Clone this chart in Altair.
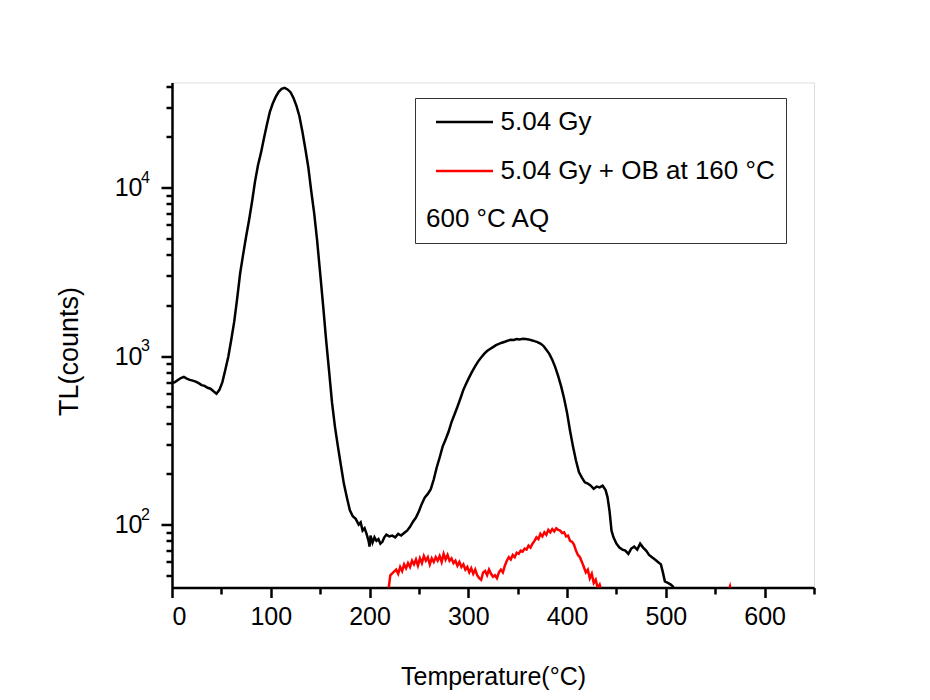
import altair as alt
import pandas as pd

FONT = "Liberation Sans"

series_names = ["5.04 Gy", "5.04 Gy + OB at 160 °C"]
series_colors = ["#000000", "#ff0000"]

black_T = [0, 3, 6, 9, 12, 15, 18, 21, 24, 27, 30, 33, 36, 39, 42, 45, 48, 51, 54, 57,
           60, 63, 66, 69, 72, 75, 78, 81, 84, 87, 90, 93, 96, 99, 102, 105, 108, 111, 114, 117,
           120, 123, 126, 129, 132, 135, 138, 141, 144, 147, 150, 153, 156, 159, 162, 165, 168, 171, 174, 177,
           180, 183, 186, 189, 191, 193, 195, 197, 199, 200, 201, 203, 205, 207, 209, 211, 213, 215, 217, 220,
           223, 226, 229, 232, 235, 238, 241, 244, 247, 250, 253, 256, 259, 262, 265, 268, 271, 274, 277, 280,
           283, 286, 289, 292, 295, 298, 301, 304, 307, 310, 313, 316, 319, 322, 325, 328, 331, 334, 337, 340,
           343, 346, 349, 352, 355, 358, 361, 364, 367, 370, 373, 376, 379, 382, 385, 388, 391, 394, 397, 400,
           403, 406, 409, 412, 415, 418, 421, 424, 427, 430, 433, 436, 439, 441, 443, 445, 447, 450, 453, 456,
           459, 462, 465, 468, 471, 474, 477, 480, 483, 486, 489, 492, 495, 497, 499, 502, 505, 507, 510, 515,
           540, 580, 620, 650]
black_v = [690, 700, 720, 740, 752, 735, 722, 715, 705, 690, 672, 665, 648, 640, 618, 598, 630, 700, 830, 990,
           1250, 1600, 2200, 3100, 4000, 5100, 6400, 8200, 10800, 13500, 16000, 19500, 23500, 28000, 31500, 34500, 37000, 38500, 39000, 38200,
           36800, 34000, 30500, 26500, 21500, 17000, 13200, 9500, 7000, 4800, 3100, 2000, 1250, 820, 530, 380, 290, 225, 175, 145,
           122, 112, 108, 100, 103, 92, 95, 88, 80, 74, 86, 78, 84, 80, 82, 77, 79, 84, 87, 85,
           86, 84, 88, 86, 89, 92, 97, 104, 110, 120, 133, 145, 152, 162, 185, 218, 250, 290, 320, 355,
           405, 450, 500, 560, 630, 690, 750, 810, 870, 930, 980, 1030, 1070, 1100, 1130, 1160, 1180, 1200, 1215, 1235,
           1250, 1245, 1260, 1255, 1265, 1260, 1255, 1240, 1225, 1210, 1185, 1150, 1090, 1030, 950, 860, 760, 660, 560, 460,
           360, 290, 240, 205, 190, 178, 175, 170, 163, 168, 166, 170, 160, 145, 120, 92, 84, 77, 73, 71,
           70, 67, 72, 74, 71, 77, 73, 70, 66, 64, 62, 60, 58, 52, 46, 45, 44, 43, 40, 36,
           33, 31, 30, 30]

red_T = [215, 219, 221, 224, 227, 229, 231, 233, 235, 237, 239, 241, 243, 245, 247, 249, 251, 253, 255, 257,
         259, 261, 263, 265, 267, 269, 271, 273, 275, 277, 279, 281, 283, 285, 287, 289, 291, 293, 295, 297,
         299, 301, 303, 305, 307, 309, 311, 313, 315, 317, 319, 321, 323, 325, 327, 329, 331, 333, 335, 337,
         339, 341, 343, 345, 347, 349, 351, 353, 355, 357, 359, 361, 363, 365, 367, 369, 371, 373, 375, 377,
         379, 381, 383, 385, 387, 389, 391, 393, 395, 397, 399, 401, 403, 405, 407, 409, 411, 413, 415, 417,
         419, 421, 423, 425, 427, 429, 431, 433, 435, 437, 440, 460, 480, 500, 520, 540, 560, 565, 568, 590,
         620, 650]
red_v = [35, 40, 50, 52, 54, 51, 56, 53, 58, 55, 59, 56, 61, 58, 62, 57, 63, 59, 65, 61,
         64, 58, 63, 60, 64, 61, 65, 60, 67, 62, 66, 61, 63, 59, 61, 57, 60, 56, 58, 54,
         56, 52, 55, 51, 54, 50, 48, 47, 52, 53, 50, 54, 51, 49, 50, 48, 52, 54, 52, 57,
         61, 64, 62, 66, 64, 68, 67, 70, 69, 72, 71, 75, 73, 77, 80, 84, 82, 88, 85, 90,
         87, 93, 90, 94, 91, 95, 93, 92, 89, 90, 85, 86, 80, 79, 76, 70, 66, 64, 60, 56,
         52, 54, 48, 51, 45, 47, 42, 44, 40, 38, 36, 33, 35, 32, 34, 33, 35, 43, 36, 33,
         34, 32]

x_major = [0, 100, 200, 300, 400, 500, 600]
x_minor = [50, 150, 250, 350, 450, 550, 650]
y_major = [100, 1000, 10000]
y_minor = [50, 60, 70, 80, 90, 200, 300, 400, 500, 600, 700, 800, 900,
           2000, 3000, 4000, 5000, 6000, 7000, 8000, 9000, 20000, 30000, 40000]
y_exponents = ["2", "3", "4"]

x_domain = [0, 650]
y_domain = [42.3, 42000]

df = pd.concat([
    pd.DataFrame({"T": black_T, "v": black_v, "series": series_names[0]}),
    pd.DataFrame({"T": red_T, "v": red_v, "series": series_names[1]}),
], ignore_index=True)
sup_df = pd.DataFrame({"v": y_major, "e": y_exponents})

xs = alt.Scale(domain=x_domain, nice=False, zero=False)
ys = alt.Scale(type="log", domain=y_domain, nice=False)

major_x = alt.Axis(values=x_major, orient="bottom", tickSize=10, tickWidth=2.5, tickColor="black",
                   domainColor="black", domainWidth=2.5, labelFontSize=25, labelPadding=7,
                   labelColor="black", labelFont=FONT, grid=False,
                   title="Temperature(°C)", titleFontSize=25, titleFontWeight="normal",
                   titleFont=FONT, titleColor="black", titleBaseline="alphabetic", titleY=97)
minor_x = alt.Axis(values=x_minor, orient="bottom", tickSize=6.5, tickWidth=2.5, tickColor="black",
                   domain=False, labels=False, title=None, grid=False)
major_y = alt.Axis(values=y_major, orient="left", tickSize=11, tickWidth=2.5, tickColor="black",
                   domainColor="black", domainWidth=2.5, labelFontSize=25, labelPadding=19,
                   labelColor="black", labelFont=FONT, labelExpr="'10'", grid=False,
                   title="TL(counts)", titleFontSize=27, titleFontWeight="normal", titleFont=FONT,
                   titleColor="black", titleX=-103, titleY=268.5, titleBaseline="middle")
minor_y = alt.Axis(values=y_minor, orient="left", tickSize=6, tickWidth=2.5, tickColor="black",
                   domain=False, labels=False, title=None, grid=False)

legend = alt.Legend(
    orient="none", legendX=243, legendY=15.5, title="600 °C AQ", titleOrient="bottom",
    titleAnchor="start", titleFontSize=26, titleFontWeight="normal", titleFont=FONT,
    titleColor="black", titlePadding=22, titleLimit=500,
    labelFontSize=26, labelFont=FONT, labelColor="black", labelLimit=600, labelOffset=23,
    symbolType="M-2.5,0H2.5", symbolSize=520, symbolOffset=25.5, symbolStrokeWidth=2.5,
    rowPadding=23, padding=11, strokeColor="#333333", fillColor="white",
)

main = alt.Chart(df).mark_line(clip=True, strokeWidth=2.5).encode(
    x=alt.X("T:Q", scale=xs, axis=major_x),
    y=alt.Y("v:Q", scale=ys, axis=major_y),
    color=alt.Color("series:N", scale=alt.Scale(domain=series_names, range=series_colors), legend=legend),
    order=alt.Order("T:Q"),
)

minor = alt.Chart(df).mark_line(clip=True, opacity=0).encode(
    x=alt.X("T:Q", scale=xs, axis=minor_x),
    y=alt.Y("v:Q", scale=ys, axis=minor_y),
    detail="series:N",
)

sup = alt.Chart(sup_df).mark_text(align="left", baseline="middle", dy=-10, fontSize=16,
                                  font=FONT, color="black").encode(
    y=alt.Y("v:Q", scale=ys, axis=None),
    x=alt.value(-31),
    text="e:N",
)

chart = alt.layer(main, minor, sup).resolve_axis(x="independent", y="independent").properties(
    width=642, height=505, autosize="none",
    padding={"left": 164, "top": 74.5, "right": 100, "bottom": 104},
).configure_view(stroke="black", strokeWidth=2.5).configure(font=FONT)

chart.save("out.html", embed_options={"renderer": "svg", "actions": False})
